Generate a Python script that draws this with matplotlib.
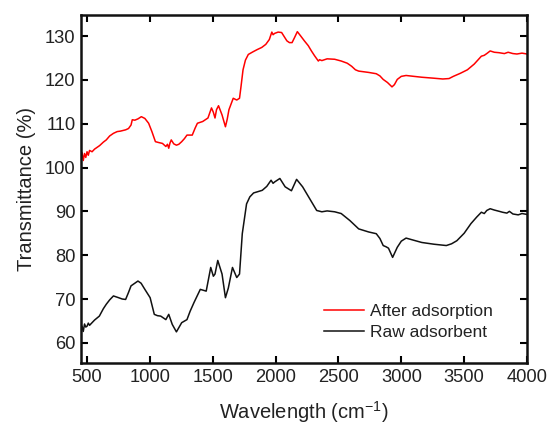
import matplotlib
matplotlib.use("Agg")
import matplotlib.pyplot as plt

plt.rcParams['font.family'] = ['Liberation Sans', 'DejaVu Sans']
plt.rcParams['mathtext.fontset'] = 'custom'
plt.rcParams['mathtext.rm'] = 'Liberation Sans'
plt.rcParams['mathtext.it'] = 'Liberation Sans:italic'
plt.rcParams['mathtext.default'] = 'regular'

# Wavenumber (cm^-1) and transmittance (%)
after_x = [450, 460, 470, 480, 490, 500, 510, 520, 540, 560, 600, 630, 653, 680, 710, 740,
           765, 807, 830, 850, 860, 880, 905, 932, 960, 990, 1016, 1044, 1070, 1100, 1127,
           1140, 1150, 1160, 1170, 1190, 1211, 1230, 1253, 1275, 1295, 1337, 1360, 1378,
           1420, 1462, 1490, 1505, 1518, 1530, 1546, 1574, 1601, 1615, 1629, 1663, 1691,
           1713, 1725, 1741, 1760, 1783, 1820, 1853, 1890, 1922, 1950, 1970, 1980, 1992,
           2020, 2048, 2070, 2090, 2110, 2131, 2150, 2173, 2200, 2229, 2260, 2285, 2310,
           2340, 2350, 2368, 2410, 2470, 2522, 2570, 2605, 2635, 2661, 2740, 2801, 2830,
           2856, 2890, 2926, 2945, 2968, 3000, 3038, 3100, 3163, 3250, 3330, 3380, 3414,
           3470, 3526, 3580, 3637, 3660, 3680, 3707, 3740, 3777, 3820, 3850, 3888, 3920,
           3960, 4000]
after_y = [102.0, 103.4, 101.6, 103.2, 102.3, 103.6, 102.8, 103.9, 103.6, 104.2, 105.0, 105.8,
           106.3, 107.2, 107.8, 108.2, 108.3, 108.6, 108.9, 109.7, 110.9, 110.8, 111.1, 111.6,
           111.2, 110.1, 108.2, 105.9, 105.7, 105.5, 104.8, 105.3, 104.4, 105.6, 106.3, 105.4,
           105.1, 105.3, 105.9, 106.6, 107.4, 107.4, 109.0, 110.1, 110.5, 111.3, 113.6, 112.6,
           111.3, 113.2, 114.1, 112.0, 109.3, 111.0, 113.2, 115.8, 115.4, 115.8, 118.5, 122.3,
           124.5, 125.8, 126.4, 126.9, 127.4, 128.1, 129.2, 130.9, 130.3, 130.6, 130.9, 130.8,
           129.8, 128.9, 128.5, 128.5, 129.6, 131.0, 130.0, 128.9, 127.8, 126.6, 125.5, 124.3,
           124.6, 124.4, 124.8, 124.7, 124.3, 123.8, 123.1, 122.3, 122.0, 121.7, 121.4, 120.9,
           120.1, 119.4, 118.4, 118.9, 120.1, 120.8, 121.0, 120.8, 120.6, 120.4, 120.2, 120.3,
           120.8, 121.5, 122.3, 123.6, 125.4, 125.6, 126.0, 126.6, 126.3, 126.2, 126.0, 126.3,
           126.0, 125.9, 126.1, 125.9]

raw_x = [450, 460, 470, 480, 490, 500, 510, 520, 540, 560, 598, 630, 653, 680, 710, 751,
         780, 807, 830, 850, 905, 930, 960, 1002, 1035, 1060, 1086, 1127, 1150, 1178, 1211,
         1253, 1295, 1320, 1351, 1401, 1448, 1484, 1505, 1518, 1540, 1574, 1601, 1624, 1657,
         1691, 1713, 1735, 1769, 1795, 1825, 1894, 1930, 1964, 1980, 1992, 2034, 2076, 2126,
         2167, 2215, 2271, 2300, 2327, 2368, 2410, 2470, 2522, 2591, 2661, 2740, 2801, 2830,
         2856, 2880, 2898, 2931, 2968, 3000, 3038, 3100, 3163, 3260, 3358, 3400, 3442, 3500,
         3554, 3600, 3637, 3660, 3680, 3707, 3740, 3780, 3805, 3840, 3860, 3888, 3930, 3960,
         4000]
raw_y = [62.3, 63.8, 62.6, 64.3, 63.6, 63.8, 64.5, 64.0, 64.6, 65.2, 66.1, 67.8, 68.8, 69.8,
         70.7, 70.3, 70.0, 69.9, 71.5, 73.0, 74.1, 73.6, 72.2, 70.3, 66.5, 66.2, 66.1, 65.3,
         66.5, 64.2, 62.5, 64.6, 65.3, 67.2, 69.2, 72.2, 71.8, 77.2, 75.2, 75.7, 78.8, 75.7,
         70.3, 72.5, 77.2, 74.9, 75.7, 84.9, 91.7, 93.3, 94.2, 94.8, 95.7, 97.1, 96.4, 96.7,
         97.5, 95.6, 94.7, 97.3, 95.6, 92.9, 91.5, 90.2, 89.9, 90.1, 89.9, 89.5, 87.9, 86.0,
         85.3, 84.9, 83.8, 82.2, 81.9, 81.6, 79.5, 81.8, 83.2, 83.9, 83.4, 82.9, 82.5, 82.2,
         82.6, 83.3, 85.0, 87.2, 88.7, 89.8, 89.5, 90.2, 90.6, 90.3, 90.0, 89.8, 89.6, 90.0,
         89.4, 89.2, 89.5, 89.3]

series_labels = ["After adsorption", "Raw adsorbent"]
xticks = [500, 1000, 1500, 2000, 2500, 3000, 3500, 4000]
yticks = [60, 70, 80, 90, 100, 110, 120, 130]

txt = '#222222'
fig = plt.figure(figsize=(5.49, 4.26), dpi=100)
ax = fig.add_axes([81 / 549, 1 - 363 / 426, 446 / 549, 348 / 426])

ax.plot(after_x, after_y, color='#ff0000', lw=1.1, label=series_labels[0])
ax.plot(raw_x, raw_y, color='#111111', lw=1.1, label=series_labels[1])

ax.set_xlim(452, 4000)
ax.set_ylim(55.4, 134.8)
ax.set_xticks(xticks)
ax.set_yticks(yticks)
ax.tick_params(direction='in', top=True, right=True, length=5, width=1.5,
               labelsize=13.2, labelcolor=txt, pad=4)
for s in ax.spines.values():
    s.set_linewidth(1.8)
    s.set_color('#111111')

ax.set_xlabel('Wavelength (cm$^{-1}$)', fontsize=14.5, color=txt, labelpad=10)
ax.set_ylabel('Transmittance (%)', fontsize=14.5, color=txt, labelpad=6)

leg = ax.legend(loc='upper left', bbox_to_anchor=(0.545, 0.17), frameon=False,
                fontsize=12.5, handlelength=2.3, handletextpad=0.35,
                borderpad=0, borderaxespad=0, labelspacing=0.32)
for t in leg.get_texts():
    t.set_color(txt)

fig.savefig('out.png', dpi=100)
